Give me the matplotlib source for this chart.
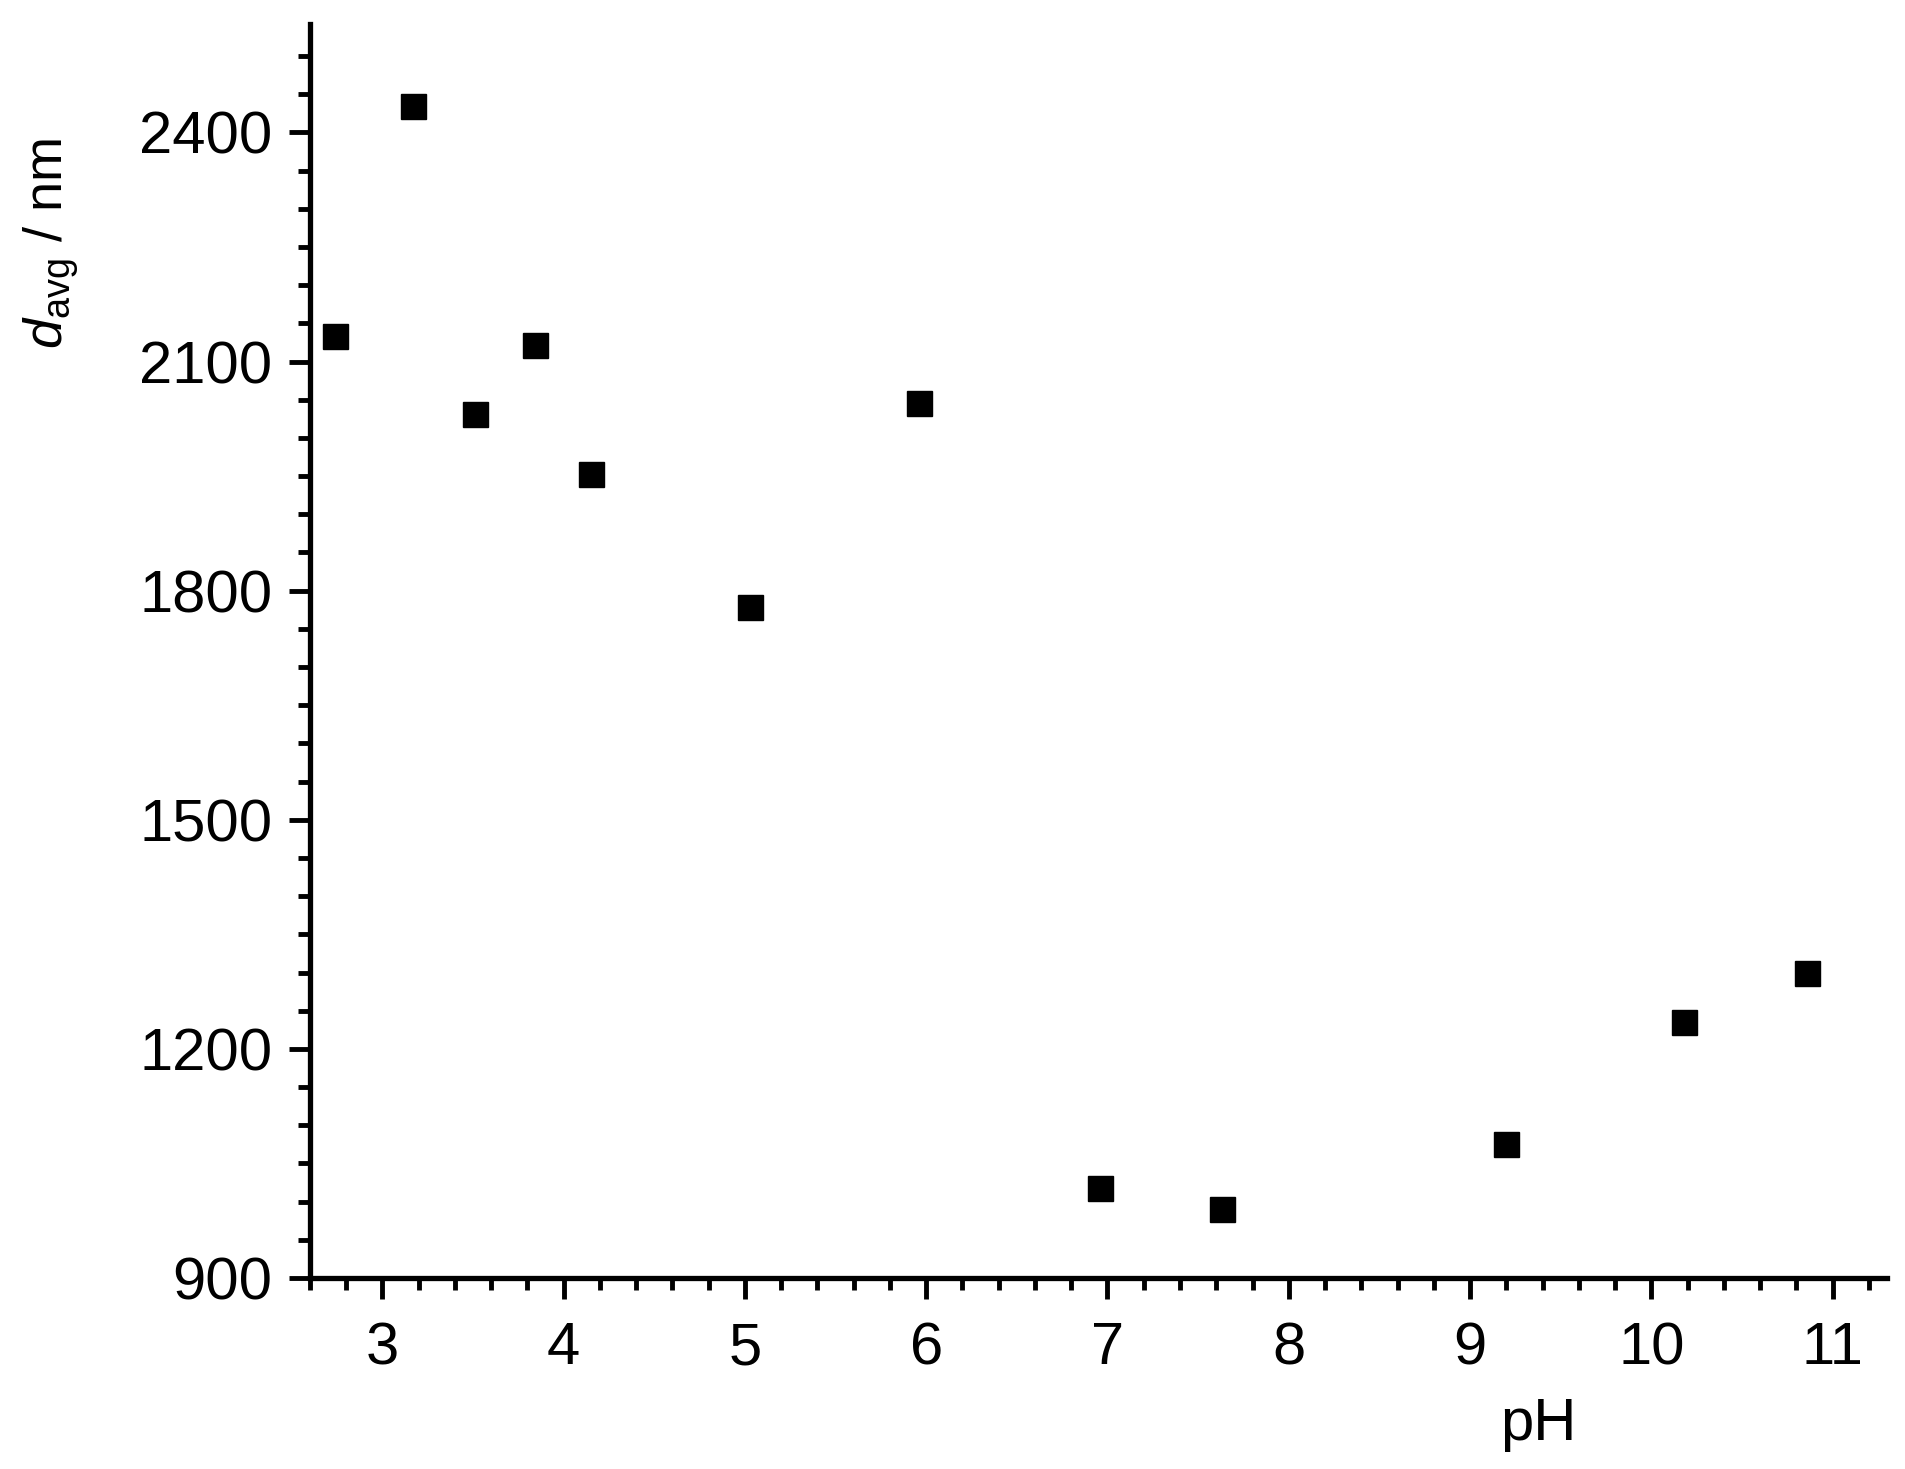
import matplotlib
matplotlib.use('Agg')
import matplotlib.pyplot as plt
from matplotlib.ticker import MultipleLocator

plt.rcParams['font.family'] = ['Liberation Sans', 'DejaVu Sans']
plt.rcParams['mathtext.fontset'] = 'custom'
plt.rcParams['mathtext.rm'] = 'Liberation Sans'
plt.rcParams['mathtext.it'] = 'Liberation Sans:italic'

# average diameter vs pH
ph = [2.74, 3.17, 3.51, 3.84, 4.15, 5.03, 5.96, 6.96, 7.63, 9.20, 10.18, 10.86]
d_avg = [2133, 2435, 2031, 2121, 1953, 1779, 2046, 1018, 991, 1076, 1235, 1299]

fig = plt.figure(figsize=(19.06, 14.69), dpi=100)
ax = fig.add_axes([0.1626, 0.130, 0.990 - 0.1626, 0.9837 - 0.130])

ax.plot(ph, d_avg, 's', color='black', markersize=18, linestyle='none')

ax.set_xlim(2.6, 11.3)
ax.set_ylim(900, 2542)
ax.xaxis.set_major_locator(MultipleLocator(1))
ax.xaxis.set_minor_locator(MultipleLocator(0.2))
ax.yaxis.set_major_locator(MultipleLocator(300))
ax.yaxis.set_minor_locator(MultipleLocator(50))

for s in ['top', 'right']:
    ax.spines[s].set_visible(False)
for s in ['left', 'bottom']:
    ax.spines[s].set_linewidth(3.8)

ax.tick_params(which='major', length=15, width=3.5, labelsize=43, direction='out')
ax.tick_params(which='minor', length=8.5, width=3.5, direction='out')
ax.tick_params(axis='x', which='major', pad=16)
ax.tick_params(axis='y', which='major', pad=12)

ax.set_xlabel('pH', fontsize=43)
ax.xaxis.set_label_coords(0.779, -0.117)
ax.xaxis.label.set_verticalalignment('center')
ax.set_ylabel(r'$d_{\mathrm{avg}}$ / nm', fontsize=39)
ax.yaxis.set_label_coords(-0.164, 0.825)
ax.yaxis.label.set_verticalalignment('center')

fig.savefig('out.png', dpi=100)
